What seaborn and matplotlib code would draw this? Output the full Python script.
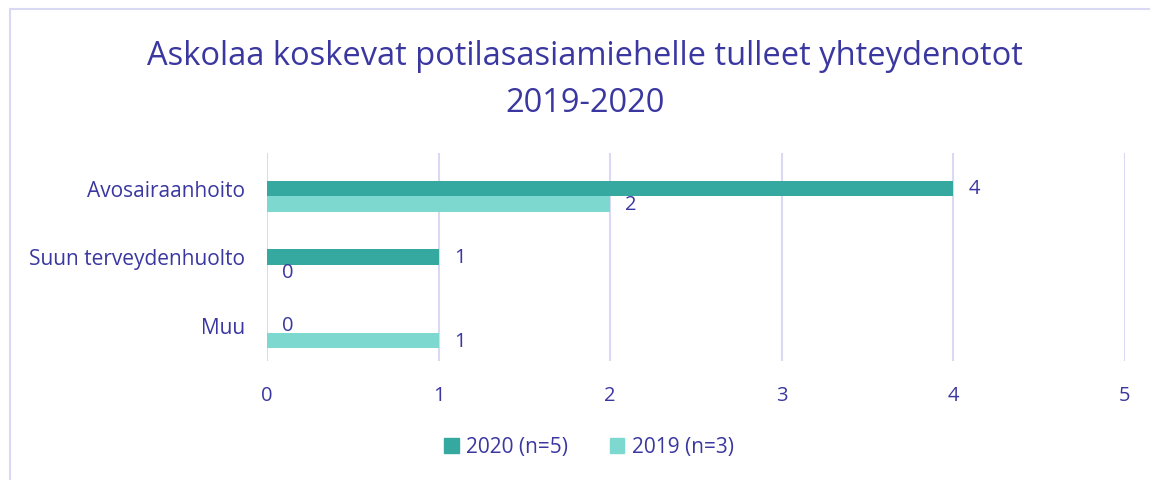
import numpy as np
import pandas as pd
import matplotlib
matplotlib.use("Agg")
import matplotlib.pyplot as plt
import seaborn as sns
from matplotlib.patches import Rectangle

# donnees
kategoriat = ["Avosairaanhoito", "Suun terveydenhuolto", "Muu"]
arvot_2020 = [4, 1, 0]
arvot_2019 = [2, 0, 1]
sarjat = ["2020 (n=5)", "2019 (n=3)"]
x_ticks = [0, 1, 2, 3, 4, 5]

teksti = "#3A37A0"
grid_col = "#D9D9F3"
varit = ["#35A9A0", "#7DD8D0"]

df = pd.DataFrame({
    "kategoria": kategoriat * 2,
    "arvo": arvot_2020 + arvot_2019,
    "sarja": [sarjat[0]] * 3 + [sarjat[1]] * 3,
})

sns.set_style("white")
plt.rcParams["font.family"] = ["Open Sans", "DejaVu Sans"]

fig = plt.figure(figsize=(11.5, 4.81), dpi=100)
ax = fig.add_axes([267 / 1150, 1 - 362 / 481, (1125 - 267) / 1150, (362 - 154) / 481])

sns.barplot(data=df, y="kategoria", x="arvo", hue="sarja", order=kategoriat,
            hue_order=sarjat, palette=varit, orient="h", width=0.45,
            saturation=1, linewidth=0, ax=ax, legend=False)

for c in ax.containers:
    ax.bar_label(c, fmt="%g", padding=11, color=teksti, fontsize=14.5)

ax.set_xlim(0, 5)
ax.set_ylim(2.41, -0.63)
ax.set_xticks(x_ticks)
ax.set_yticks(np.arange(len(kategoriat)) - 0.12, labels=kategoriat)
ax.tick_params(axis="x", length=0, pad=17, labelcolor=teksti, labelsize=14.5)
ax.tick_params(axis="y", length=0, pad=16, labelcolor=teksti, labelsize=15)
ax.set_xlabel("")
ax.set_ylabel("")
ax.grid(True, axis="x", color=grid_col, linewidth=1.5)
ax.set_axisbelow(True)
for s in ax.spines.values():
    s.set_visible(False)

fig.suptitle("Askolaa koskevat potilasasiamiehelle tulleet yhteydenotot\n2019-2020",
             x=585 / 1150, y=1 - 40 / 481, va="top", fontsize=23.5, color=teksti,
             linespacing=1.55)

kahvat = [Rectangle((0, 0), 1, 1, color=v) for v in varit]
fig.legend(kahvat, sarjat, loc="center", bbox_to_anchor=(589 / 1150, 1 - 448 / 481),
           ncol=2, frameon=False, fontsize=15, labelcolor=teksti,
           handlelength=0.7, handleheight=0.7, handletextpad=0.35, columnspacing=2.0)

# cadre du graphique (seulement haut et gauche visibles)
fig.add_artist(Rectangle((10 / 1150, -0.2), 1.2, 1.2 - 10 / 481, fill=False,
                         edgecolor=grid_col, linewidth=1.5, transform=fig.transFigure))

fig.savefig("out.png", dpi=100)
